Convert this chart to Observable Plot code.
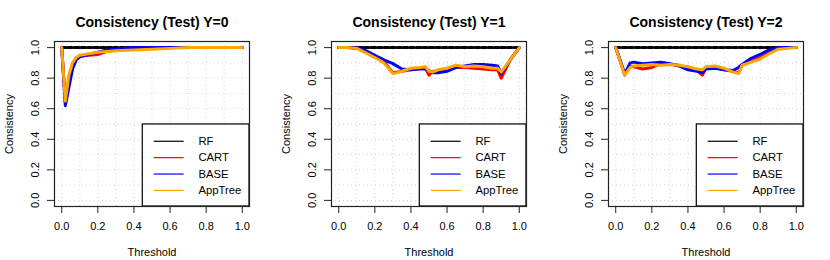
<!DOCTYPE html>
<html><head><meta charset="utf-8">
<script src="https://cdn.jsdelivr.net/npm/d3@7"></script>
<script src="https://cdn.jsdelivr.net/npm/@observablehq/plot@0.6"></script>
<style>
body{margin:0;background:#fff;}
#row{display:flex;width:830px;height:260px;}
#row svg{flex:none;}
</style></head><body><div id="row"></div>
<script>
// ---- data ----
const panelTitles = ["Consistency (Test) Y=0", "Consistency (Test) Y=1", "Consistency (Test) Y=2"];
const seriesNames = ["RF", "CART", "BASE", "AppTree"];
const seriesColors = ["black", "red", "blue", "orange"];
const xTicks = [0, 0.2, 0.4, 0.6, 0.8, 1.0];
const yTicks = [0, 0.2, 0.4, 0.6, 0.8, 1.0];
const gridValues = [0, 0.1, 0.2, 0.3, 0.4, 0.5, 0.6, 0.7, 0.8, 0.9, 1.0];
const xLabel = "Threshold";
const yLabel = "Consistency";

const thresholdY0 = [0, 0.02, 0.04, 0.06, 0.08, 0.1, 0.15, 0.2, 0.25, 0.3, 0.4, 0.5, 0.6, 0.7, 0.8, 0.9, 1.0];
const rfY0 =      [1, 1, 1, 1, 1, 1, 1, 1, 1, 1, 1, 1, 1, 1, 1, 1, 1];
const cartY0 =    [1, 0.64, 0.80, 0.89, 0.93, 0.945, 0.95, 0.955, 0.975, 0.985, 0.99, 0.995, 1, 1, 1, 1, 1];
const baseY0 =    [1, 0.62, 0.74, 0.86, 0.92, 0.94, 0.955, 0.97, 0.985, 0.99, 1, 1, 1, 1, 1, 1, 1];
const appTreeY0 = [1, 0.65, 0.82, 0.90, 0.935, 0.95, 0.96, 0.97, 0.975, 0.98, 0.985, 0.99, 0.995, 1, 1, 1, 1];

const thresholdY1 = [0, 0.05, 0.1, 0.15, 0.2, 0.25, 0.3, 0.35, 0.4, 0.45, 0.48, 0.5, 0.52, 0.55, 0.6, 0.65, 0.7, 0.75, 0.8, 0.85, 0.88, 0.9, 0.95, 1.0];
const rfY1 =      [1, 1, 1, 1, 1, 1, 1, 1, 1, 1, 1, 1, 1, 1, 1, 1, 1, 1, 1, 1, 1, 1, 1, 1];
const cartY1 =    [1, 1, 0.995, 0.97, 0.94, 0.91, 0.835, 0.845, 0.855, 0.865, 0.865, 0.82, 0.845, 0.845, 0.855, 0.87, 0.87, 0.865, 0.86, 0.855, 0.855, 0.80, 0.92, 1.0];
const baseY1 =    [1, 1, 0.998, 0.98, 0.95, 0.92, 0.895, 0.86, 0.855, 0.86, 0.86, 0.85, 0.835, 0.835, 0.845, 0.87, 0.88, 0.89, 0.89, 0.885, 0.88, 0.83, 0.92, 1.0];
const appTreeY1 = [1, 1, 0.995, 0.965, 0.935, 0.9, 0.83, 0.845, 0.865, 0.87, 0.875, 0.845, 0.84, 0.855, 0.865, 0.885, 0.875, 0.88, 0.875, 0.865, 0.865, 0.84, 0.92, 1.0];

const thresholdY2 = [0, 0.05, 0.08, 0.1, 0.15, 0.2, 0.25, 0.3, 0.35, 0.4, 0.45, 0.48, 0.5, 0.55, 0.6, 0.65, 0.68, 0.7, 0.75, 0.8, 0.85, 0.9, 0.95, 1.0];
const rfY2 =      [1, 1, 1, 1, 1, 1, 1, 1, 1, 1, 1, 1, 1, 1, 1, 1, 1, 1, 1, 1, 1, 1, 1, 1];
const cartY2 =    [1, 0.82, 0.88, 0.875, 0.86, 0.87, 0.895, 0.89, 0.885, 0.865, 0.85, 0.82, 0.865, 0.87, 0.855, 0.845, 0.835, 0.885, 0.91, 0.935, 0.965, 0.995, 1, 1];
const baseY2 =    [1, 0.83, 0.90, 0.905, 0.895, 0.90, 0.905, 0.895, 0.88, 0.855, 0.845, 0.835, 0.86, 0.865, 0.855, 0.85, 0.87, 0.89, 0.93, 0.955, 0.985, 1, 1, 1];
const appTreeY2 = [1, 0.82, 0.87, 0.88, 0.885, 0.89, 0.885, 0.89, 0.885, 0.875, 0.86, 0.855, 0.875, 0.88, 0.865, 0.84, 0.83, 0.885, 0.905, 0.925, 0.96, 0.99, 0.995, 1];

const panels = [
  {title: panelTitles[0], x: thresholdY0, series: [rfY0, cartY0, baseY0, appTreeY0]},
  {title: panelTitles[1], x: thresholdY1, series: [rfY1, cartY1, baseY1, appTreeY1]},
  {title: panelTitles[2], x: thresholdY2, series: [rfY2, cartY2, baseY2, appTreeY2]}
];

// ---- drawing ----
const FONT = "'Liberation Sans', Arial, Helvetica, sans-serif";
const widths = [277, 277, 276];

function panel(p, w) {
  const rows = [];
  p.series.forEach((vals, si) => vals.forEach((v, i) => rows.push({name: seriesNames[si], x: p.x[i], y: v})));
  const byName = n => rows.filter(r => r.name === n);
  const legend = seriesNames.map((n, i) => ({name: n, color: seriesColors[i], ly: 0.387 - i * 0.1073}));
  return Plot.plot({
    width: w, height: 260,
    marginLeft: 54, marginRight: w - 249, marginTop: 41, marginBottom: 54,
    style: {fontFamily: FONT, fontSize: "11px", background: "white", overflow: "visible"},
    x: {domain: [-0.04, 1.04], axis: null},
    y: {domain: [-0.04, 1.04], axis: null},
    marks: [
      Plot.ruleX(gridValues, {x: d => d, stroke: "#d3d3d3", strokeDasharray: "1,3"}),
      Plot.ruleY(gridValues, {y: d => d, stroke: "#d3d3d3", strokeDasharray: "1,3"}),
      Plot.line(byName("RF"), {x: "x", y: "y", stroke: "#999", strokeWidth: 3}),
      Plot.line(byName("RF"), {x: "x", y: "y", stroke: "black", strokeWidth: 3, strokeDasharray: "4,2.5"}),
      Plot.line(byName("CART"), {x: "x", y: "y", stroke: "red", strokeWidth: 3, strokeLinejoin: "round"}),
      Plot.line(byName("BASE"), {x: "x", y: "y", stroke: "blue", strokeWidth: 3, strokeLinejoin: "round"}),
      Plot.line(byName("AppTree"), {x: "x", y: "y", stroke: "orange", strokeWidth: 3, strokeLinejoin: "round"}),
      // legend
      Plot.rect([0], {x1: 0.449, x2: 1.04, y1: -0.04, y2: 0.497, fill: "white", stroke: "black", strokeWidth: 1.2}),
      Plot.ruleY(legend, {y: "ly", x1: 0.512, x2: 0.678, stroke: "color", strokeWidth: 1.2}),
      Plot.text(legend, {x: 0.757, y: "ly", text: "name", textAnchor: "start", fontSize: 11.3, fill: "black"}),
      // axes
      Plot.axisX({ticks: xTicks, tickSize: 7, tickPadding: 9, tickFormat: d => d.toFixed(1), label: null, fontSize: 11, stroke: "#222"}),
      Plot.axisY({ticks: yTicks, tickSize: 7, tickFormat: () => "", label: null, stroke: "#222"}),
      Plot.text(yTicks, {y: d => d, frameAnchor: "left", dx: -19, rotate: -90, text: d => d.toFixed(1), textAnchor: "middle", lineAnchor: "middle", fontSize: 11}),
      Plot.text([yLabel], {frameAnchor: "left", dx: -45.5, rotate: -90, text: d => d, textAnchor: "middle", lineAnchor: "middle", fontSize: 11}),
      Plot.text([xLabel], {frameAnchor: "bottom", dy: 45.5, text: d => d, lineAnchor: "middle", fontSize: 11}),
      Plot.text([p.title], {frameAnchor: "top", dy: -19.3, text: d => d, lineAnchor: "middle", fontSize: 14, fontWeight: "bold"}),
      Plot.frame({stroke: "#222", strokeWidth: 1.2})
    ]
  });
}

const row = document.getElementById("row");
panels.forEach((p, i) => row.appendChild(panel(p, widths[i])));
</script></body></html>
